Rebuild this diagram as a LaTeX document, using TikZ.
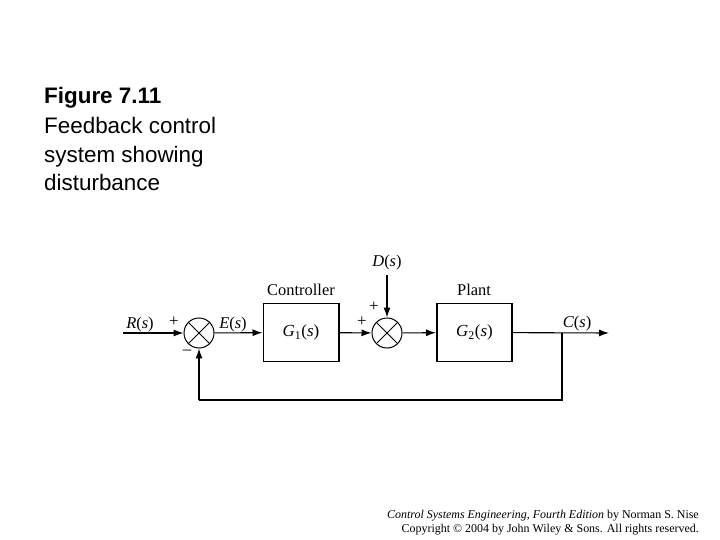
\documentclass[tikz,border=0pt]{standalone}
\usepackage{fontspec}
\setmainfont{Liberation Serif}
\newfontfamily\arialf{Liberation Sans}
\usetikzlibrary{arrows.meta}
\begin{document}
\begin{tikzpicture}[x=1bp,y=-1bp,
  blk/.style={draw, line width=2pt, minimum width=75bp, minimum height=58bp, inner sep=0pt, font=\fontsize{17}{20}\selectfont},
  sumj/.style={draw, circle, line width=1pt, minimum size=30bp, inner sep=0pt, path picture={
      \draw[line width=1pt] (path picture bounding box.north west) -- (path picture bounding box.south east)
        (path picture bounding box.north east) -- (path picture bounding box.south west);}},
  lbl/.style={font=\fontsize{16.5}{19}\selectfont, inner sep=0pt},
  sgn/.style={font=\fontsize{17}{19}\selectfont, inner sep=0pt},
  ttl/.style={font=\arialf\fontsize{22.5}{26}\selectfont, anchor=base west, inner sep=0pt},
  ftr/.style={font=\fontsize{12}{14}\selectfont, anchor=base east, inner sep=0pt},
  sig/.style={line width=1.1pt},
  arr/.style={line width=1.1pt, -{Latex[length=10bp,width=7bp]}}]
\useasboundingbox (0,0) rectangle (720,540);
% title
\node[ttl] (t1) at (44,104) {\bfseries Figure 7.11};
\node[ttl] (t2) at (44,134) {Feedback control};
\node[ttl] (t3) at (44,163) {system showing};
\node[ttl] (t4) at (44,191) {disturbance};
% footer
\node[ftr] (f1) at (699,518) {\textit{Control Systems Engineering, Fourth Edition} by Norman S. Nise};
\node[ftr] (f2) at (699,532) {Copyright © 2004 by John Wiley \& Sons. All rights reserved.};
% diagram
\coordinate (in) at (123,333);
\node[sumj] (s1) at (199,333) {};
\node[blk] (g1) at (301,332.5) {\textit{G}\textsubscript{1}(\textit{s})};
\node[sumj] (s2) at (387,333) {};
\node[blk] (g2) at (474.5,332.5) {\textit{G}\textsubscript{2}(\textit{s})};
\coordinate (out) at (609,333);
\coordinate (br) at (562,333);
\coordinate (fb1) at (562,400);
\coordinate (fb2) at (199,400);
\coordinate (dtop) at (387,275);
\node[lbl, anchor=base] (ctl) at (301,295) {Controller};
\node[lbl, anchor=base] (plt) at (474,295) {Plant};
\node[lbl, anchor=base] (rl) at (140,328) {\textit{R}(\textit{s})};
\node[lbl, anchor=base] (el) at (233,328) {\textit{E}(\textit{s})};
\node[lbl, anchor=base] (dl) at (387,267) {\textit{D}(\textit{s})};
\node[lbl, anchor=base] (cl) at (577,327) {\textit{C}(\textit{s})};
\node[sgn] (p1) at (174,322) {+};
\node[sgn] (m1) at (187,352) {\textendash};
\node[sgn] (p2) at (362,322) {+};
\node[sgn] (p3) at (374,307) {+};
% connectors
\draw[arr] (in) -- (s1);
\draw[arr] (s1) -- (g1);
\draw[arr] (g1) -- (s2);
\draw[arr] (dtop) -- (s2);
\draw[arr] (s2) -- (g2);
\draw[arr] (g2) -- (out);
\draw[sig] (br) -- (fb1) -- (fb2);
\draw[arr] (fb2) -- (s1);
\end{tikzpicture}
\end{document}
